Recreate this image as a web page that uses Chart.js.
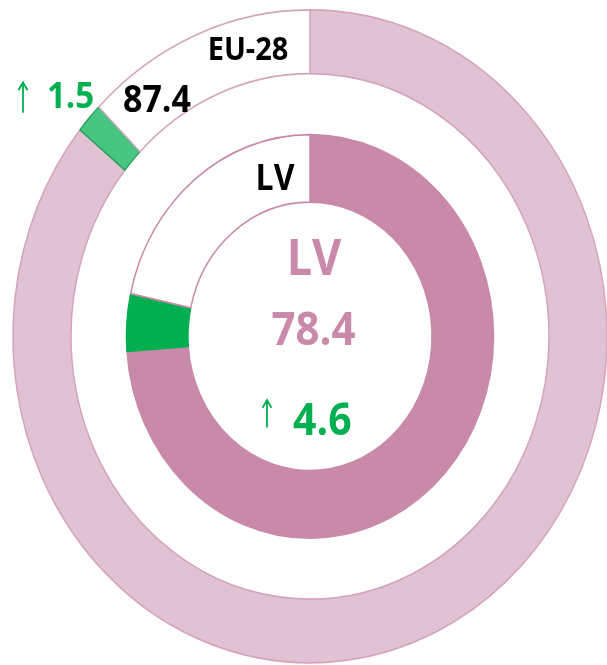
<!DOCTYPE html>
<html>
<head>
<meta charset="utf-8">
<script src="https://cdn.jsdelivr.net/npm/chart.js@4/dist/chart.umd.min.js"></script>
<style>
  html, body { margin: 0; padding: 0; background: #fff; overflow: hidden; }
</style>
</head>
<body>
<canvas id="chart" width="607" height="665"></canvas>
<script>
// data
const regions = ['EU-28', 'LV'];
const shares = [87.4, 78.4];      // total %
const changes = [1.5, 4.6];       // increase, shown in green
const fullScale = 100;

// colours
const pinkLight = '#e0c2d2';
const pinkDark = '#c88aa8';
const green = '#00b050';

// the original picture is a circle stretched vertically
const stretchY = 1.0992;

function ringData(i) {
    return [shares[i] - changes[i], changes[i], fullScale - shares[i]];
}

function upArrow(ctx, x, yTop, yBottom) {
    ctx.beginPath();
    ctx.moveTo(x, yBottom);
    ctx.lineTo(x, yTop);
    ctx.moveTo(x - 4.5, yTop + 7);
    ctx.lineTo(x, yTop);
    ctx.lineTo(x + 4.5, yTop + 7);
    ctx.stroke();
}

// stretch + labels, offsets from the centre (canvas px before stretching)
const labelPlugin = {
    id: 'labels',
    beforeDraw(chart) {
        chart.ctx.save();
        chart.ctx.scale(1, stretchY);
    },
    afterDraw(chart) {
        const arc = chart.getDatasetMeta(0).data[0];
        const cx = arc.x, cy = arc.y;
        const ctx = chart.ctx;
        const bold = (s) => 'bold ' + s + 'px "Open Sans", "Noto Sans", sans-serif';
        const items = [
            { t: regions[0], dx: -62, dy: -251.5, font: bold(29), color: '#000', align: 'center' },
            { t: shares[0].toFixed(1), dx: -153, dy: -204.5, font: bold(34), color: '#000', align: 'center' },
            { t: changes[0].toFixed(1), dx: -263, dy: -208, font: bold(33), color: green, align: 'left' },
            { t: regions[1], dx: -35, dy: -133.5, font: bold(32), color: '#000', align: 'center' },
            { t: regions[1], dx: 4, dy: -56, font: bold(45), color: pinkDark, align: 'center' },
            { t: shares[1].toFixed(1), dx: 3.5, dy: 7.5, font: bold(42), color: pinkDark, align: 'center' },
            { t: changes[1].toFixed(1), dx: -17, dy: 89.5, font: bold(41), color: green, align: 'left' }
        ];
        ctx.textBaseline = 'alphabetic';
        items.forEach(it => {
            ctx.font = it.font;
            ctx.fillStyle = it.color;
            ctx.textAlign = it.align;
            ctx.fillText(it.t, cx + it.dx, cy + it.dy);
        });
        ctx.strokeStyle = green;
        ctx.lineWidth = 1.8;
        upArrow(ctx, cx - 287, cy - 231, cy - 203.5);
        upArrow(ctx, cx - 43, cy + 58, cy + 83);
        ctx.restore();
    }
};

const ctx = document.getElementById('chart').getContext('2d');

new Chart(ctx, {
    type: 'doughnut',
    data: {
        labels: ['base', 'change', 'rest'],
        datasets: [
            {
                label: regions[0],
                data: ringData(0),
                backgroundColor: [pinkLight, 'rgba(0,176,80,0.72)', '#ffffff'],
                borderColor: ['#d4a4bd', '#2fa462', '#d4a4bd'],
                borderWidth: 1.5,
                weight: 58
            },
            {
                label: 'gap',
                data: [fullScale],
                backgroundColor: ['rgba(0,0,0,0)'],
                borderWidth: 0,
                weight: 55.5
            },
            {
                label: regions[1],
                data: ringData(1),
                backgroundColor: [pinkDark, green, '#ffffff'],
                borderColor: [pinkDark, green, pinkDark],
                borderWidth: 1.5,
                weight: 61.5
            }
        ]
    },
    options: {
        responsive: false,
        animation: false,
        events: [],
        radius: 297,
        cutout: '41.1%',
        layout: { padding: { left: 13, right: 0, top: 9, bottom: 62 } },
        plugins: {
            legend: { display: false },
            tooltip: { enabled: false }
        }
    },
    plugins: [labelPlugin]
});
</script>
</body>
</html>
